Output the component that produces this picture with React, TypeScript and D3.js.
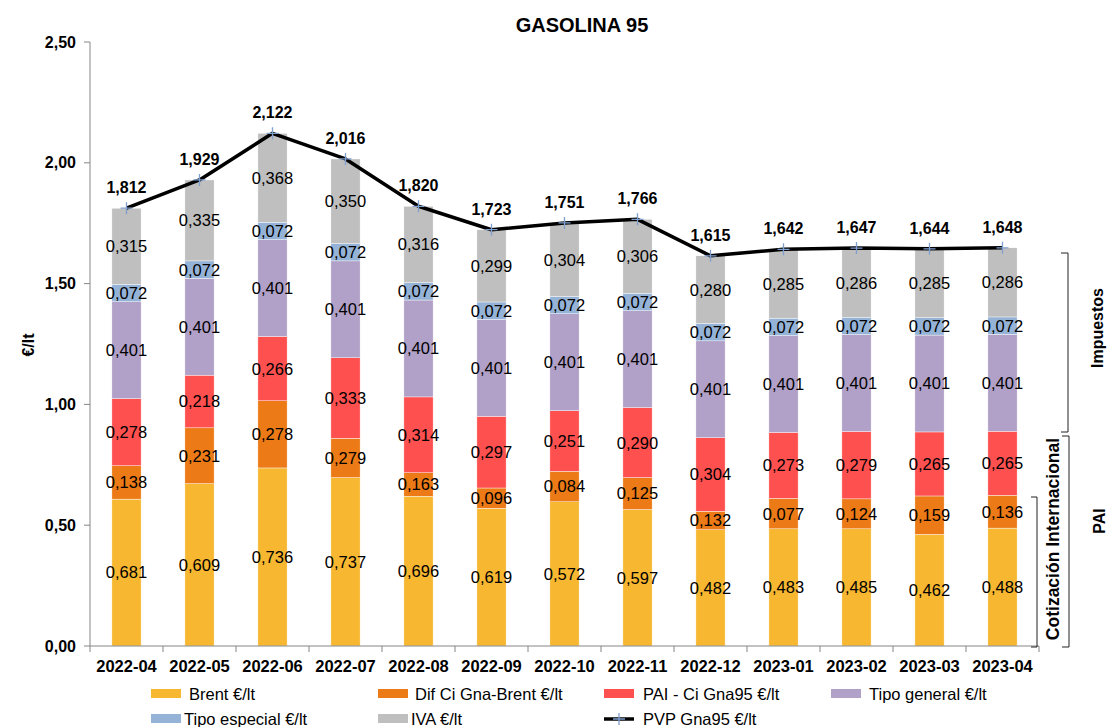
import React from "react";
import * as d3 from "d3";

const months = [
  "2022-04", "2022-05", "2022-06", "2022-07", "2022-08", "2022-09", "2022-10",
  "2022-11", "2022-12", "2023-01", "2023-02", "2023-03", "2023-04",
];

// bar heights as drawn
const brent = [0.608, 0.672, 0.737, 0.697, 0.62, 0.57, 0.597, 0.565, 0.481, 0.485, 0.485, 0.462, 0.488];
const difCi = [0.138, 0.231, 0.278, 0.163, 0.097, 0.084, 0.126, 0.132, 0.077, 0.126, 0.124, 0.159, 0.136];
const paiCi = [0.278, 0.218, 0.266, 0.333, 0.314, 0.297, 0.251, 0.29, 0.304, 0.273, 0.279, 0.265, 0.265];
const tipoGeneral = [0.401, 0.401, 0.401, 0.401, 0.401, 0.401, 0.401, 0.401, 0.401, 0.401, 0.401, 0.401, 0.401];
const tipoEspecial = [0.072, 0.072, 0.072, 0.072, 0.072, 0.072, 0.072, 0.072, 0.072, 0.072, 0.072, 0.072, 0.072];
const iva = [0.315, 0.335, 0.368, 0.35, 0.316, 0.299, 0.304, 0.306, 0.28, 0.285, 0.286, 0.285, 0.286];
const pvp = [1.812, 1.929, 2.122, 2.016, 1.82, 1.723, 1.751, 1.766, 1.615, 1.642, 1.647, 1.644, 1.648];

// labels as printed on the chart (brent / dif labels do not always match the bars)
const brentLabels = [0.681, 0.609, 0.736, 0.737, 0.696, 0.619, 0.572, 0.597, 0.482, 0.483, 0.485, 0.462, 0.488];
const difLabels = [0.138, 0.231, 0.278, 0.279, 0.163, 0.096, 0.084, 0.125, 0.132, 0.077, 0.124, 0.159, 0.136];

const yTicks = [0, 0.5, 1, 1.5, 2, 2.5];

const series = [
  { name: "Brent €/lt", color: "#F7B731", values: brent, labels: brentLabels },
  { name: "Dif Ci Gna-Brent €/lt", color: "#EC7A16", values: difCi, labels: difLabels },
  { name: "PAI - Ci Gna95 €/lt", color: "#FF5050", values: paiCi, labels: paiCi },
  { name: "Tipo general €/lt", color: "#B1A0C7", values: tipoGeneral, labels: tipoGeneral },
  { name: "Tipo especial €/lt", color: "#95B3D7", values: tipoEspecial, labels: tipoEspecial },
  { name: "IVA €/lt", color: "#BFBFBF", values: iva, labels: iva },
];

const FONT = "'Liberation Sans', Arial, sans-serif";
const fmt3 = (v: number) => v.toFixed(3).replace(".", ",");
const fmt2 = (v: number) => v.toFixed(2).replace(".", ",");

export default function App() {
  const x = d3.scaleBand<string>().domain(months).range([90, 1039]).paddingInner(0.6).paddingOuter(0.3);
  const y = d3.scaleLinear().domain([0, 2.5]).range([646, 42]);
  const step = x.step();
  const bw = x.bandwidth();
  const cx = (m: string) => (x(m) as number) + bw / 2;

  const rows = months.map((m, i) => {
    const r: any = { month: m };
    series.forEach((s, k) => (r["s" + k] = s.values[i]));
    return r;
  });
  const stacked = d3.stack().keys(series.map((_, k) => "s" + k))(rows);

  const line = d3
    .line<number>()
    .x((_, i) => cx(months[i]))
    .y((d) => y(d));

  const legend = [
    { k: 0, sx: 151, tx: 189, yy: 694 },
    { k: 1, sx: 378, tx: 415, yy: 694 },
    { k: 2, sx: 604, tx: 643, yy: 694 },
    { k: 3, sx: 831, tx: 869, yy: 694 },
    { k: 4, sx: 151, tx: 184, yy: 719 },
    { k: 5, sx: 378, tx: 411, yy: 719 },
  ];

  const plus = (px: number, py: number, key: string) => (
    <path key={key} d={`M${px - 6},${py}H${px + 6}M${px},${py - 6}V${py + 6}`} stroke="#7F9FCF" strokeWidth={1.3} />
  );

  return (
    <svg width={1107} height={727} style={{ position: "absolute", left: 0, top: 0, fontFamily: FONT }}>
      <rect width={1107} height={727} fill="#fff" />
      <text x={582} y={32} textAnchor="middle" fontWeight="bold" fontSize={20}>
        GASOLINA 95
      </text>

      {/* y axis */}
      <line x1={90} x2={90} y1={42} y2={646} stroke="#868686" />
      {yTicks.map((t) => (
        <g key={t}>
          <line x1={84} x2={90} y1={y(t)} y2={y(t)} stroke="#868686" />
          <text x={76} y={y(t)} dy="0.35em" textAnchor="end" fontWeight="bold" fontSize={16}>
            {fmt2(t)}
          </text>
        </g>
      ))}
      <text transform="translate(34,345) rotate(-90)" textAnchor="middle" fontWeight="bold" fontSize={16}>
        €/lt
      </text>

      {/* bars */}
      {stacked.map((layer, k) => (
        <g key={k}>
          {layer.map((d, i) => (
            <rect
              key={i}
              x={x(months[i])}
              y={y(d[1])}
              width={bw}
              height={y(d[0]) - y(d[1])}
              fill={series[k].color}
              stroke="#ffffff"
              strokeWidth={0.4}
            />
          ))}
        </g>
      ))}
      {stacked.map((layer, k) => (
        <g key={"l" + k}>
          {layer.map((d, i) => (
            <text
              key={i}
              x={cx(months[i])}
              y={(y(d[0]) + y(d[1])) / 2}
              dy="0.36em"
              textAnchor="middle"
              fontSize={16.5}
              fill="#000"
            >
              {fmt3(series[k].labels[i])}
            </text>
          ))}
        </g>
      ))}

      {/* x axis */}
      <line x1={90} x2={1039} y1={646} y2={646} stroke="#868686" />
      {d3.range(months.length + 1).map((i) => (
        <line key={i} x1={90 + i * step} x2={90 + i * step} y1={646} y2={652} stroke="#868686" />
      ))}
      {months.map((m) => (
        <text key={m} x={cx(m)} y={672} textAnchor="middle" fontWeight="bold" fontSize={16.5}>
          {m}
        </text>
      ))}

      {/* PVP line */}
      <path d={line(pvp) || ""} fill="none" stroke="#000" strokeWidth={3.5} strokeLinejoin="round" />
      {pvp.map((v, i) => plus(cx(months[i]), y(v), "p" + i))}
      {pvp.map((v, i) => (
        <text key={"t" + i} x={cx(months[i])} y={y(v) - 15} textAnchor="middle" fontWeight="bold" fontSize={16}>
          {fmt3(v)}
        </text>
      ))}

      {/* right brackets */}
      <path d="M1061,253H1068V432H1061" fill="none" stroke="#222" strokeWidth={1} />
      <path d="M1062,436H1069V647H1062" fill="none" stroke="#222" strokeWidth={1} />
      <path d="M1031,497H1037V647H1031" fill="none" stroke="#222" strokeWidth={1} />
      <text transform="translate(1097,328) rotate(-90)" textAnchor="middle" dy="0.35em" fontWeight="bold" fontSize={16}>
        Impuestos
      </text>
      <text transform="translate(1099,521) rotate(-90)" textAnchor="middle" dy="0.35em" fontWeight="bold" fontSize={16}>
        PAI
      </text>
      <text transform="translate(1053,539) rotate(-90)" textAnchor="middle" dy="0.35em" fontWeight="bold" fontSize={17.5}>
        Cotización Internacional
      </text>

      {/* legend */}
      {legend.map((l) => (
        <g key={l.k}>
          <rect x={l.sx} y={l.yy - 5} width={30} height={9} fill={series[l.k].color} />
          <text x={l.tx} y={l.yy} dy="0.35em" fontSize={16.5}>
            {series[l.k].name}
          </text>
        </g>
      ))}
      <line x1={604} x2={634} y1={719} y2={719} stroke="#000" strokeWidth={3.5} />
      {plus(619, 719, "lg")}
      <text x={643} y={719} dy="0.35em" fontSize={16.5}>
        PVP Gna95 €/lt
      </text>
    </svg>
  );
}
